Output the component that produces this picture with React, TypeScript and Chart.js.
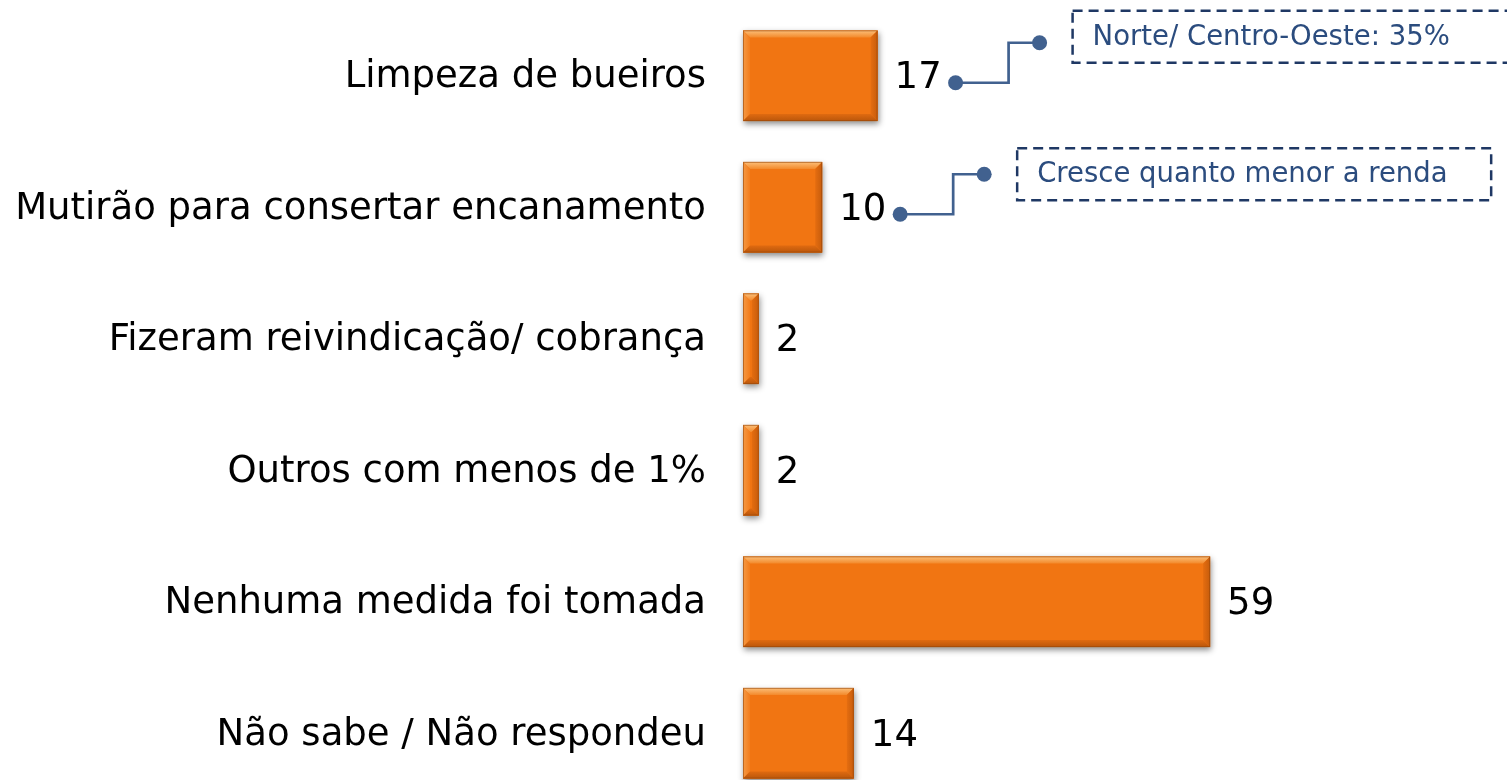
import React, { useEffect, useRef } from "react";
import { Chart, registerables } from "chart.js";

Chart.register(...registerables);

const categories = [
  "Limpeza de bueiros",
  "Mutirão para consertar encanamento",
  "Fizeram reivindicação/ cobrança",
  "Outros com menos de 1%",
  "Nenhuma medida foi tomada",
  "Não sabe / Não respondeu",
];
const values = [17, 10, 2, 2, 59, 14];
const noteIndexes = [0, 1];
const noteTexts = ["Norte/ Centro-Oeste: 35%", "Cresce quanto menor a renda"];

const FONT = "'DejaVu Sans', Verdana, sans-serif";
const ORANGE = "#F17512";

const shadowPlugin = {
  id: "barShadow",
  beforeDatasetsDraw(chart: any) {
    const ctx = chart.ctx;
    const meta = chart.getDatasetMeta(0);
    ctx.save();
    meta.data.forEach((bar: any) => {
      const left = Math.min(bar.base, bar.x);
      const w = Math.abs(bar.x - bar.base);
      const top = bar.y - bar.height / 2;
      ctx.shadowColor = "rgba(0,0,0,0.45)";
      ctx.shadowBlur = 6;
      ctx.shadowOffsetX = 1;
      ctx.shadowOffsetY = 3;
      ctx.fillStyle = ORANGE;
      ctx.fillRect(left, top, w, bar.height);
    });
    ctx.restore();
  },
  afterDatasetsDraw(chart: any) {
    const ctx = chart.ctx;
    const meta = chart.getDatasetMeta(0);
    ctx.save();
    meta.data.forEach((bar: any, i: number) => {
      const l = Math.min(bar.base, bar.x);
      const r = Math.max(bar.base, bar.x);
      const t = bar.y - bar.height / 2;
      const b = bar.y + bar.height / 2;
      const bv = Math.min(7, (r - l) / 2);
      const poly = (pts: number[][], fill: any) => {
        ctx.beginPath();
        ctx.moveTo(pts[0][0], pts[0][1]);
        for (let k = 1; k < pts.length; k++) ctx.lineTo(pts[k][0], pts[k][1]);
        ctx.closePath();
        ctx.fillStyle = fill;
        ctx.fill();
      };
      const gTop = ctx.createLinearGradient(0, t, 0, t + bv);
      gTop.addColorStop(0, "#FCC07A");
      gTop.addColorStop(1, "#F38A2C");
      poly([[l, t], [r, t], [r - bv, t + bv], [l + bv, t + bv]], gTop);
      const gLeft = ctx.createLinearGradient(l, 0, l + bv, 0);
      gLeft.addColorStop(0, "#F59A45");
      gLeft.addColorStop(1, "#F27C1C");
      poly([[l, t], [l + bv, t + bv], [l + bv, b - bv], [l, b]], gLeft);
      const gRight = ctx.createLinearGradient(r - bv, 0, r, 0);
      gRight.addColorStop(0, "#E56D10");
      gRight.addColorStop(1, "#C65C0C");
      poly([[r, t], [r, b], [r - bv, b - bv], [r - bv, t + bv]], gRight);
      const gBot = ctx.createLinearGradient(0, b - bv, 0, b);
      gBot.addColorStop(0, "#DF6A10");
      gBot.addColorStop(1, "#B9560B");
      poly([[l, b], [l + bv, b - bv], [r - bv, b - bv], [r, b]], gBot);
      ctx.strokeStyle = "rgba(150,70,10,0.6)";
      ctx.lineWidth = 1;
      ctx.strokeRect(l + 0.5, t + 0.5, r - l - 1, b - t - 1);

      // value label
      ctx.fillStyle = "#000";
      ctx.font = `37px ${FONT}`;
      ctx.textAlign = "left";
      ctx.textBaseline = "middle";
      ctx.fillText(String(values[i]), r + 17, bar.y + 3);
    });
    ctx.restore();
  },
  afterDraw(chart: any) {
    const ctx = chart.ctx;
    const meta = chart.getDatasetMeta(0);
    ctx.save();
    noteIndexes.forEach((idx, n) => {
      const bar: any = meta.data[idx];
      const sx = bar.x + 78;
      const sy = bar.y + 7;
      const ex = sx + 84;
      const ey = sy - 40;
      const elbow = sx + 53;
      ctx.strokeStyle = "#41618F";
      ctx.fillStyle = "#41618F";
      ctx.lineWidth = 2.7;
      ctx.beginPath();
      ctx.moveTo(sx, sy);
      ctx.lineTo(elbow, sy);
      ctx.lineTo(elbow, ey);
      ctx.lineTo(ex, ey);
      ctx.stroke();
      [[sx, sy], [ex, ey]].forEach(([px, py]) => {
        ctx.beginPath();
        ctx.arc(px, py, 7.5, 0, Math.PI * 2);
        ctx.fill();
      });
      const bx = ex + 33;
      const bw = 474;
      const bh = 52;
      const by = n === 0 ? ey - 32 : ey - 26;
      ctx.setLineDash([10, 6]);
      ctx.strokeStyle = "#1F3864";
      ctx.lineWidth = 2.5;
      ctx.strokeRect(bx, by, bw, bh);
      ctx.setLineDash([]);
      ctx.fillStyle = "#2B4C7E";
      ctx.font = `27.5px ${FONT}`;
      ctx.textAlign = "left";
      ctx.textBaseline = "middle";
      ctx.fillText(noteTexts[n], bx + 20, by + bh / 2 + 1);
    });
    ctx.restore();
  },
};

export default function App() {
  const ref = useRef<HTMLCanvasElement>(null);
  useEffect(() => {
    if (!ref.current) return;
    const chart = new Chart(ref.current, {
      type: "bar",
      data: {
        labels: categories,
        datasets: [
          {
            data: values,
            backgroundColor: ORANGE,
            borderWidth: 0,
            barPercentage: 0.69,
            categoryPercentage: 1,
          },
        ],
      },
      options: {
        indexAxis: "y",
        animation: false,
        responsive: false,
        maintainAspectRatio: false,
        layout: { padding: { top: 10, bottom: 1, left: 0, right: 0 } },
        plugins: { legend: { display: false }, tooltip: { enabled: false } },
        scales: {
          x: { display: false, min: 0, max: 96.5 },
          y: {
            grid: { display: false, drawTicks: false },
            border: { display: false },
            ticks: {
              color: "#000",
              font: { family: FONT, size: 37 },
              padding: 37,
              labelOffset: 2,
            },
            afterFit: (scale: any) => {
              scale.width = 743;
              scale.paddingTop = 0;
              scale.paddingBottom = 0;
            },
          },
        },
      },
      plugins: [shadowPlugin],
    });
    return () => chart.destroy();
  }, []);
  return (
    <div
      style={{
        position: "fixed",
        left: 0,
        top: 0,
        width: 1507,
        height: 780,
        overflow: "hidden",
        background: "#fff",
      }}
    >
      <canvas ref={ref} width={1507} height={800} style={{ display: "block" }} />
    </div>
  );
}
